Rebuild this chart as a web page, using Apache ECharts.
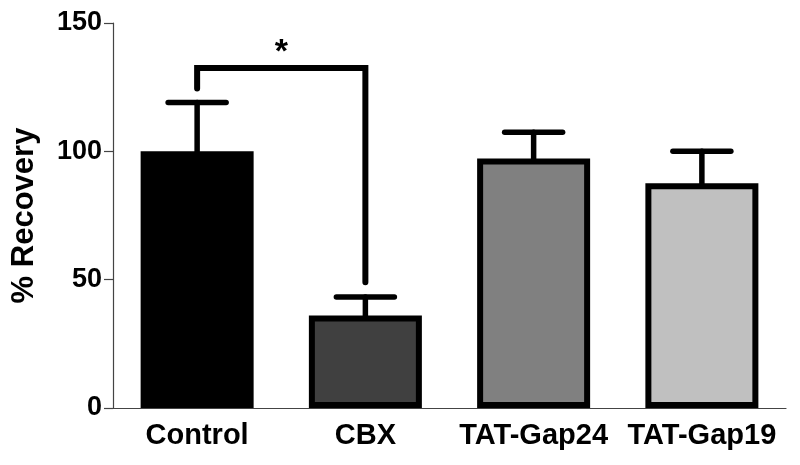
<!DOCTYPE html>
<html>
<head>
<meta charset="utf-8">
<script src="https://cdn.jsdelivr.net/npm/echarts@6/dist/echarts.min.js"></script>
<style>html,body{margin:0;padding:0;background:#fff}#c{width:800px;height:465px}</style>
</head>
<body>
<div id="c"></div>
<script>
const categories = ['Control', 'CBX', 'TAT-Gap24', 'TAT-Gap19'];
const means = [100, 36, 97.2, 87.6];
const errUpper = [119, 43.2, 107.4, 100];
const barColors = ['#000000', '#404040', '#808080', '#c0c0c0'];
const yMin = 0, yMax = 150, yStep = 50;
const bracketCats = [0, 1];
const bracketLeftEnd = 124.5, bracketTop = 132.5, bracketRightEnd = 49;
const bracketLabel = '*';

const FONT = '"Liberation Sans", Arial, sans-serif';
const chart = echarts.init(document.getElementById('c'), null, {renderer: 'canvas'});

chart.setOption({
  animation: false,
  backgroundColor: '#fff',
  grid: {left: 113, right: 14, top: 23, bottom: 57, containLabel: false},
  xAxis: {
    type: 'category',
    data: categories,
    axisLine: {lineStyle: {color: '#444', width: 1.2}},
    axisTick: {alignWithLabel: true, length: 8, lineStyle: {color: '#444', width: 1.2}},
    axisLabel: {color: '#000', fontFamily: FONT, fontWeight: 'bold', fontSize: 29, margin: 13, interval: 0}
  },
  yAxis: {
    type: 'value',
    min: yMin, max: yMax, interval: yStep,
    name: '% Recovery',
    nameLocation: 'middle',
    nameGap: 73,
    nameTextStyle: {color: '#000', fontFamily: FONT, fontWeight: 'bold', fontSize: 31},
    axisLine: {show: true, lineStyle: {color: '#444', width: 1.2}},
    axisTick: {show: true, length: 9, lineStyle: {color: '#444', width: 1.2}},
    splitLine: {show: false},
    axisLabel: {color: '#000', fontFamily: FONT, fontWeight: 'bold', fontSize: 27, margin: 11}
  },
  series: [
    {
      type: 'bar',
      barWidth: 113,
      data: means.map((v, i) => ({value: v, itemStyle: {color: barColors[i]}})),
      itemStyle: {borderColor: '#000', borderWidth: 6},
      z: 2
    },
    {
      type: 'custom',
      z: 3,
      data: means.map((v, i) => [i, v, errUpper[i]]),
      renderItem: function (params, api) {
        const x = api.value(0);
        const p0 = api.coord([x, api.value(1)]);
        const p1 = api.coord([x, api.value(2)]);
        const half = 29;
        const style = {stroke: '#000', lineWidth: 5.5, lineCap: 'round'};
        return {
          type: 'group',
          children: [
            {type: 'line', shape: {x1: p0[0], y1: p0[1], x2: p1[0], y2: p1[1]}, style: style},
            {type: 'line', shape: {x1: p1[0] - half, y1: p1[1], x2: p1[0] + half, y2: p1[1]}, style: style}
          ]
        };
      }
    },
    {
      type: 'custom',
      z: 3,
      data: [[bracketCats[0], bracketCats[1], bracketLeftEnd, bracketTop, bracketRightEnd]],
      renderItem: function (params, api) {
        const a = api.coord([api.value(0), api.value(2)]);
        const t1 = api.coord([api.value(0), api.value(3)]);
        const t2 = api.coord([api.value(1), api.value(3)]);
        const b = api.coord([api.value(1), api.value(4)]);
        return {
          type: 'group',
          children: [
            {type: 'polyline', shape: {points: [a, t1, t2, b]},
             style: {stroke: '#000', lineWidth: 6, fill: null, lineCap: 'round', lineJoin: 'miter'}},
            {type: 'text', x: (t1[0] + t2[0]) / 2, y: t1[1] + 2,
             style: {text: bracketLabel, fill: '#000', font: 'bold 34px ' + FONT, align: 'center', verticalAlign: 'bottom'}}
          ]
        };
      }
    }
  ]
});
</script>
</body>
</html>
